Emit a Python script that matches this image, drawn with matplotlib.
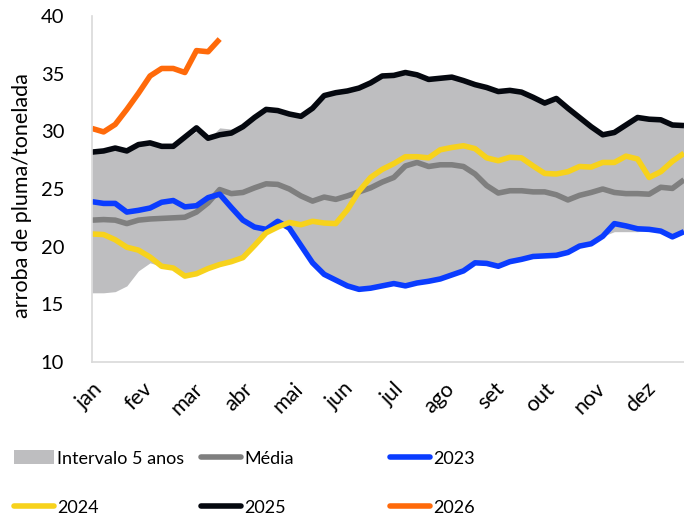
import matplotlib
matplotlib.use('Agg')
import matplotlib.pyplot as plt
import numpy as np
from matplotlib.patches import Patch
from matplotlib.lines import Line2D

plt.rcParams['font.family'] = ['Lato', 'DejaVu Sans']

months = ['jan', 'fev', 'mar', 'abr', 'mai', 'jun', 'jul', 'ago', 'set', 'out', 'nov', 'dez']

band_upper = [28.1, 28.2, 28.4, 28.2, 28.7, 28.9, 28.6, 28.6, 29.3, 30.0,
              29.3, 30.3, 30.2, 30.4, 31.2, 31.9, 31.8, 31.5, 31.3, 32.0,
              33.1, 33.35, 33.5, 33.75, 34.2, 34.8, 34.85, 35.1, 34.9, 34.5,
              34.6, 34.7, 34.4, 34.05, 33.8, 33.45, 33.55, 33.4, 32.95, 32.45,
              32.85, 32.0, 31.2, 30.4, 29.7, 29.9, 30.55, 31.2, 31.05, 31.0,
              30.55, 30.5]
band_lower = [16.0, 16.0, 16.1, 16.6, 17.9, 18.6, 18.3, 18.15, 17.45, 17.65,
              18.1, 18.45, 18.7, 19.05, 20.1, 21.2, 21.7, 21.6, 20.1, 18.6,
              17.6, 17.1, 16.6, 16.3, 16.4, 16.6, 16.8, 16.6, 16.85, 17.0,
              17.2, 17.55, 17.9, 18.6, 18.55, 18.3, 18.7, 18.9, 19.15, 19.2,
              19.25, 19.5, 20.05, 20.25, 20.9, 21.3, 21.3, 21.3, 21.4, 21.35,
              20.85, 21.3]
media = [22.3, 22.35, 22.3, 22.0, 22.3, 22.4, 22.45, 22.5, 22.55, 23.0,
         23.8, 24.95, 24.6, 24.7, 25.1, 25.45, 25.4, 25.0, 24.4, 23.95,
         24.3, 24.1, 24.4, 24.75, 25.1, 25.6, 26.0, 27.0, 27.3, 26.95,
         27.1, 27.1, 26.95, 26.3, 25.3, 24.65, 24.85, 24.85, 24.75, 24.75,
         24.5, 24.05, 24.45, 24.7, 25.0, 24.7, 24.6, 24.6, 24.55, 25.15,
         25.05, 25.8]
y2023 = [23.9, 23.75, 23.75, 23.0, 23.15, 23.35, 23.85, 24.0, 23.45, 23.55,
         24.25, 24.55, 23.4, 22.3, 21.7, 21.5, 22.2, 21.6, 20.1, 18.6,
         17.6, 17.1, 16.6, 16.3, 16.4, 16.6, 16.8, 16.6, 16.85, 17.0,
         17.2, 17.55, 17.9, 18.6, 18.55, 18.3, 18.7, 18.9, 19.15, 19.2,
         19.25, 19.5, 20.05, 20.25, 20.9, 22.0, 21.8, 21.55, 21.5, 21.35,
         20.85, 21.3]
y2024 = [21.1, 21.05, 20.6, 19.95, 19.7, 19.1, 18.3, 18.15, 17.45, 17.65,
         18.1, 18.45, 18.7, 19.05, 20.1, 21.2, 21.7, 22.1, 21.9, 22.2,
         22.05, 22.0, 23.2, 24.8, 26.0, 26.7, 27.2, 27.8, 27.8, 27.7,
         28.4, 28.6, 28.75, 28.5, 27.7, 27.45, 27.75, 27.7, 27.0, 26.35,
         26.3, 26.5, 26.95, 26.9, 27.3, 27.3, 27.85, 27.6, 26.0, 26.5,
         27.4, 28.1]
y2025 = [28.2, 28.3, 28.55, 28.3, 28.85, 29.0, 28.7, 28.7, 29.5, 30.3,
         29.4, 29.7, 29.85, 30.4, 31.2, 31.9, 31.8, 31.5, 31.3, 32.0,
         33.1, 33.35, 33.5, 33.75, 34.2, 34.8, 34.85, 35.1, 34.9, 34.5,
         34.6, 34.7, 34.4, 34.05, 33.8, 33.45, 33.55, 33.4, 32.95, 32.45,
         32.85, 32.0, 31.2, 30.4, 29.7, 29.9, 30.55, 31.2, 31.05, 31.0,
         30.55, 30.5]
y2026 = [30.25, 29.95, 30.6, 31.9, 33.3, 34.8, 35.45, 35.45, 35.1, 37.0,
         36.9, 38.0]

weeks = np.arange(len(media))
FS_TICK = 14.5
FS_XTICK = 15.5
FS = 13
FS_YLABEL = 15.5

fig = plt.figure(figsize=(6.84, 5.23), dpi=100)
ax = fig.add_axes([92 / 684, 1 - 362 / 523, 592 / 684, 346 / 523])

ax.fill_between(weeks, band_lower, band_upper, color='#BEBEC0', lw=0)
lw = 4
kw = dict(lw=lw, solid_joinstyle='round', solid_capstyle='butt')
ax.plot(weeks, media, color='#7F7F7F', **kw)
ax.plot(weeks, y2023, color='#0A3CFF', **kw)
ax.plot(weeks, y2024, color='#F7D21C', **kw)
ax.plot(weeks, y2025, color='#05080F', **kw)
ax.plot(weeks[:len(y2026)], y2026, color='#FF6A0A', **kw)

ax.set_xlim(0, 51)
ax.set_ylim(10, 40)
ax.set_yticks(np.arange(10, 41, 5))
ax.tick_params(axis='y', length=0, pad=20, labelsize=FS_TICK)
ax.set_xticks(np.arange(len(months)) * 52 / 12)
ax.set_xticklabels(months, rotation=45, ha='right', va='top',
                   rotation_mode='anchor', fontsize=FS_XTICK)
ax.tick_params(axis='x', length=0, pad=12)
for s in ['top', 'right']:
    ax.spines[s].set_visible(False)
for s in ['left', 'bottom']:
    ax.spines[s].set_color('#D9D9D9')
    ax.spines[s].set_linewidth(1.2)
ax.set_ylabel('arroba de pluma/tonelada', fontsize=FS_YLABEL)
ax.yaxis.set_label_coords(-0.101, 0.48)

def lh(c):
    return Line2D([], [], color=c, lw=lw, solid_capstyle='round')

common = dict(loc='upper left', frameon=False, borderpad=0, borderaxespad=0,
              handlelength=2.0, handletextpad=0.15, labelspacing=1.6, fontsize=FS_TICK)
top = 1 - 450 / 523
fig.legend(handles=[Patch(facecolor='#BEBEC0', edgecolor='none'), lh('#F7D21C')],
           labels=['Intervalo 5 anos', '2024'],
           bbox_to_anchor=(14 / 684, top), **common)
fig.legend(handles=[lh('#7F7F7F'), lh('#05080F')], labels=['Média', '2025'],
           bbox_to_anchor=(201 / 684, top), **common)
fig.legend(handles=[lh('#0A3CFF'), lh('#FF6A0A')], labels=['2023', '2026'],
           bbox_to_anchor=(390 / 684, top), **common)

for leg in fig.legends:
    for t in leg.get_texts():
        t.set_fontsize(FS)

fig.savefig('out.png', dpi=100)
